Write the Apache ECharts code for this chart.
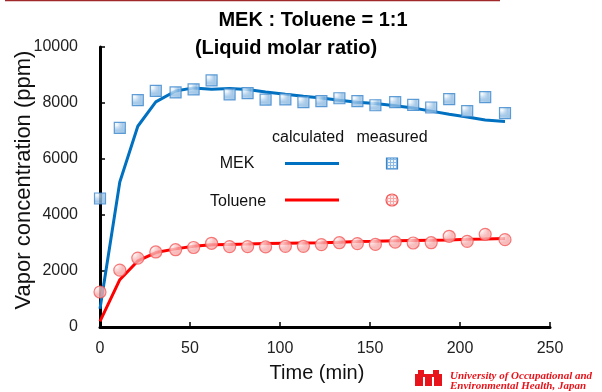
<!DOCTYPE html>
<html>
<head>
<meta charset="utf-8">
<script src="https://cdn.jsdelivr.net/npm/echarts@6/dist/echarts.min.js"></script>
<style>
  html, body { margin: 0; padding: 0; background: #fff; }
  #chart { width: 602px; height: 392px; }
</style>
</head>
<body>
<div id="chart"></div>
<script>
// sampling times (min)
var timeMin = [0, 11, 21, 31, 42, 52, 62, 72, 82, 92, 103, 113, 123, 133, 143, 153, 164, 174, 184, 194, 204, 214, 225]

// MEK vapor concentration (ppm)
var mekCalc = [650, 5180, 7170, 8040, 8430, 8540, 8490, 8520, 8480, 8390, 8310, 8240, 8180, 8100, 8030, 7980, 7900, 7820, 7710, 7600, 7500, 7390, 7340]
var mekMeasured = [4590, 7110, 8100, 8430, 8380, 8490, 8810, 8310, 8350, 8120, 8130, 8030, 8070, 8170, 8070, 7920, 8030, 7930, 7840, 8140, 7710, 8210, 7640]

// Toluene vapor concentration (ppm)
var tolCalc = [200, 1690, 2360, 2660, 2790, 2880, 2940, 2950, 2960, 2980, 2990, 3000, 3010, 3030, 3050, 3060, 3080, 3090, 3100, 3110, 3130, 3140, 3160]
var tolMeasured = [1250, 2030, 2460, 2680, 2760, 2840, 2990, 2870, 2870, 2860, 2880, 2880, 2940, 3010, 2980, 2950, 3030, 3000, 3010, 3240, 3060, 3310, 3120]

var FONT = '"Liberation Sans", Arial, sans-serif'
var BLUE = '#0070C0'
var RED = '#FF0000'

function pair(xs, ys) {
  return xs.map(function (x, i) { return [x, ys[i]] })
}

// small grid texture for the measured markers
function makePattern(bg, fg) {
  var c = document.createElement('canvas')
  c.width = 3
  c.height = 3
  var ctx = c.getContext('2d')
  ctx.fillStyle = bg
  ctx.fillRect(0, 0, 3, 3)
  ctx.fillStyle = fg
  ctx.fillRect(0, 0, 3, 1)
  ctx.fillRect(0, 0, 1, 3)
  return { image: c, repeat: 'repeat' }
}
var mekFill = makePattern('#eef5fc', '#8dbbe3')
var tolFill = makePattern('#fdeeee', '#f7a8a8')

var chart = echarts.init(document.getElementById('chart'))

chart.setOption({
  backgroundColor: '#fff',
  animation: false,
  grid: {
    left: 100,
    right: 52,
    top: 47,
    bottom: 65,
    containLabel: false,
    outerBoundsMode: 'none'
  },
  xAxis: {
    type: 'value',
    min: 0,
    max: 250,
    interval: 50,
    name: 'Time (min)',
    nameLocation: 'middle',
    nameGap: 36,
    nameMoveOverlap: false,
    nameTextStyle: { fontFamily: FONT, fontSize: 20, color: '#111', padding: [0, 16, 0, 0] },
    axisLine: { lineStyle: { color: '#000', width: 3 } },
    axisTick: { inside: true, length: 5, lineStyle: { color: '#000', width: 1.5 } },
    splitLine: { show: false },
    axisLabel: { fontFamily: FONT, fontSize: 16, color: '#222', margin: 14 }
  },
  yAxis: {
    type: 'value',
    min: 0,
    max: 10000,
    interval: 2000,
    name: 'Vapor concentration (ppm)',
    nameLocation: 'middle',
    nameGap: 65,
    nameMoveOverlap: false,
    nameTextStyle: { fontFamily: FONT, fontSize: 22, color: '#111', padding: [0, 0, 0, 14] },
    axisLine: { show: true, lineStyle: { color: '#000', width: 3 } },
    axisTick: { show: true, inside: true, length: 5, lineStyle: { color: '#000', width: 1.5 } },
    splitLine: { show: false },
    axisLabel: {
      fontFamily: FONT, fontSize: 16, color: '#222', margin: 22,
      formatter: function (v) { return String(v) }
    }
  },
  series: [
    {
      name: 'MEK calculated',
      type: 'line',
      data: pair(timeMin, mekCalc),
      symbol: 'none',
      lineStyle: { color: BLUE, width: 3 },
      z: 2
    },
    {
      name: 'Toluene calculated',
      type: 'line',
      data: pair(timeMin, tolCalc),
      symbol: 'none',
      lineStyle: { color: RED, width: 3 },
      z: 2
    },
    {
      name: 'MEK measured',
      type: 'scatter',
      data: pair(timeMin, mekMeasured),
      symbol: 'rect',
      symbolSize: 11,
      itemStyle: { color: mekFill, borderColor: '#3a86cc', borderWidth: 1.2 },
      z: 3
    },
    {
      name: 'Toluene measured',
      type: 'scatter',
      data: pair(timeMin, tolMeasured),
      symbol: 'circle',
      symbolSize: 12,
      itemStyle: { color: tolFill, borderColor: '#f45a5a', borderWidth: 1.2 },
      z: 3
    }
  ],
  graphic: [
    // thin slide border at the top
    { type: 'line', shape: { x1: 5, y1: 0.5, x2: 500, y2: 0.5 }, style: { stroke: '#a0282a', lineWidth: 1.5 } },
    // titles
    { type: 'text', x: 313, y: 20, style: { text: 'MEK : Toluene = 1:1', font: 'bold 20px ' + FONT, fill: '#000', align: 'center', verticalAlign: 'middle' } },
    { type: 'text', x: 286, y: 48, style: { text: '(Liquid molar ratio)', font: 'bold 20px ' + FONT, fill: '#000', align: 'center', verticalAlign: 'middle' } },
    // legend block
    { type: 'text', x: 308, y: 138, style: { text: 'calculated', font: '16px ' + FONT, fill: '#111', align: 'center', verticalAlign: 'middle' } },
    { type: 'text', x: 392, y: 138, style: { text: 'measured', font: '16px ' + FONT, fill: '#111', align: 'center', verticalAlign: 'middle' } },
    { type: 'text', x: 237, y: 164, style: { text: 'MEK', font: '16px ' + FONT, fill: '#111', align: 'center', verticalAlign: 'middle' } },
    { type: 'text', x: 238, y: 202, style: { text: 'Toluene', font: '16px ' + FONT, fill: '#111', align: 'center', verticalAlign: 'middle' } },
    { type: 'line', shape: { x1: 285, y1: 163.5, x2: 339, y2: 163.5 }, style: { stroke: BLUE, lineWidth: 3 } },
    { type: 'line', shape: { x1: 285, y1: 200, x2: 339, y2: 200 }, style: { stroke: RED, lineWidth: 3 } },
    { type: 'rect', shape: { x: 386.5, y: 158, width: 11, height: 11 }, style: { fill: mekFill, stroke: '#3a86cc', lineWidth: 1.2 } },
    { type: 'circle', shape: { cx: 392, cy: 200, r: 6 }, style: { fill: tolFill, stroke: '#f45a5a', lineWidth: 1.2 } },
    // university logo
    { type: 'rect', shape: { x: 415, y: 374, width: 27, height: 12 }, style: { fill: '#e8141b' } },
    { type: 'rect', shape: { x: 418, y: 370, width: 6, height: 5 }, style: { fill: '#e8141b' } },
    { type: 'rect', shape: { x: 433, y: 370, width: 6, height: 5 }, style: { fill: '#e8141b' } },
    { type: 'rect', shape: { x: 423, y: 377, width: 2, height: 9 }, style: { fill: '#fff' } },
    { type: 'rect', shape: { x: 432, y: 377, width: 2, height: 9 }, style: { fill: '#fff' } },
    { type: 'text', x: 450, y: 376, style: { text: 'University of Occupational and', font: 'italic bold 11px "Liberation Serif", "Times New Roman", serif', fill: '#e8141b', verticalAlign: 'middle' } },
    { type: 'text', x: 450, y: 386, style: { text: 'Environmental Health, Japan', font: 'italic bold 11px "Liberation Serif", "Times New Roman", serif', fill: '#e8141b', verticalAlign: 'middle' } }
  ]
})
</script>
</body>
</html>
